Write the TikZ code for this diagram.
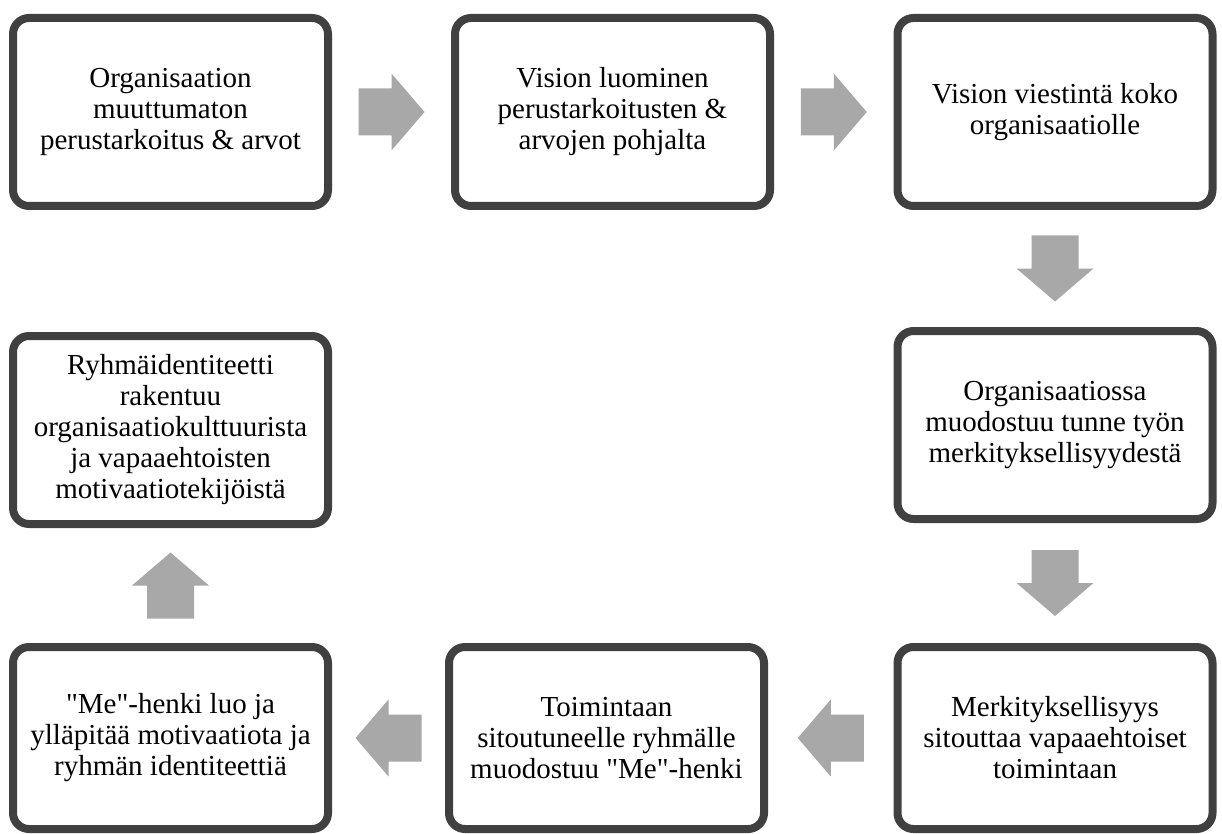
\documentclass[tikz,border=0pt]{standalone}
\usepackage{fontspec}
\setmainfont{Liberation Serif}[Ligatures=TeXOff]
\usetikzlibrary{calc}
\definecolor{boxline}{HTML}{404040}
\definecolor{arrowgrey}{HTML}{A8A8A8}
\begin{document}
\begin{tikzpicture}[x=1pt, y=-1pt,
  stepbox/.style={draw=boxline, line width=8pt, rounded corners=16pt, fill=white,
    minimum width=315pt, minimum height=188pt, inner sep=0pt, align=center,
    font=\fontsize{29}{31}\selectfont},
  blockarrow/.pic={\fill[arrowgrey] (-33,-23.5) -- (0,-23.5) -- (0,-38.5) -- (33,0)
    -- (0,38.5) -- (0,23.5) -- (-33,23.5) -- cycle;}]
\useasboundingbox (0,0) rectangle (1222,834);

\node[stepbox] (perus) at (170.5,112){Organisaation\\muuttumaton\\perustarkoitus \& arvot};
\node[stepbox] (visio) at (612.5,112){Vision luominen\\perustarkoitusten \&\\arvojen pohjalta};
\node[stepbox] (viestinta) at (1055,112){Vision viestintä koko\\organisaatiolle};
\node[stepbox] (tunne) at (1055,425){Organisaatiossa\\muodostuu tunne työn\\merkityksellisyydestä};
\node[stepbox, minimum height=182pt] (sitouttaa) at (1055,738){Merkityksellisyys\\sitouttaa vapaaehtoiset\\toimintaan};
\node[stepbox, minimum height=182pt] (mehenki) at (606.5,738){Toimintaan\\sitoutuneelle ryhmälle\\muodostuu "Me"-henki};
\node[stepbox, minimum height=182pt] (yllapito) at (170.5,738){"Me"-henki luo ja\\ylläpitää motivaatiota ja\\ryhmän identiteettiä};
\node[stepbox] (identiteetti) at (170.5,430){Ryhmäidentiteetti\\rakentuu\\organisaatiokulttuurista\\ja vapaaehtoisten\\motivaatiotekijöistä};

\path ($(perus.east)!0.5!(visio.west)$) pic{blockarrow};
\path ($(visio.east)!0.5!(viestinta.west)$) pic{blockarrow};
\path ($(viestinta.south)!0.5!(tunne.north)$) pic[rotate=-90]{blockarrow};
\path ($(tunne.south)!0.5!(sitouttaa.north)$) pic[rotate=-90]{blockarrow};
\path ($(sitouttaa.west)!0.5!(mehenki.east)$) pic[rotate=180]{blockarrow};
\path ($(mehenki.west)!0.5!(yllapito.east)$) pic[rotate=180]{blockarrow};
\path ($(yllapito.north)!0.5!(identiteetti.south)$) pic[rotate=90]{blockarrow};
\end{tikzpicture}
\end{document}
